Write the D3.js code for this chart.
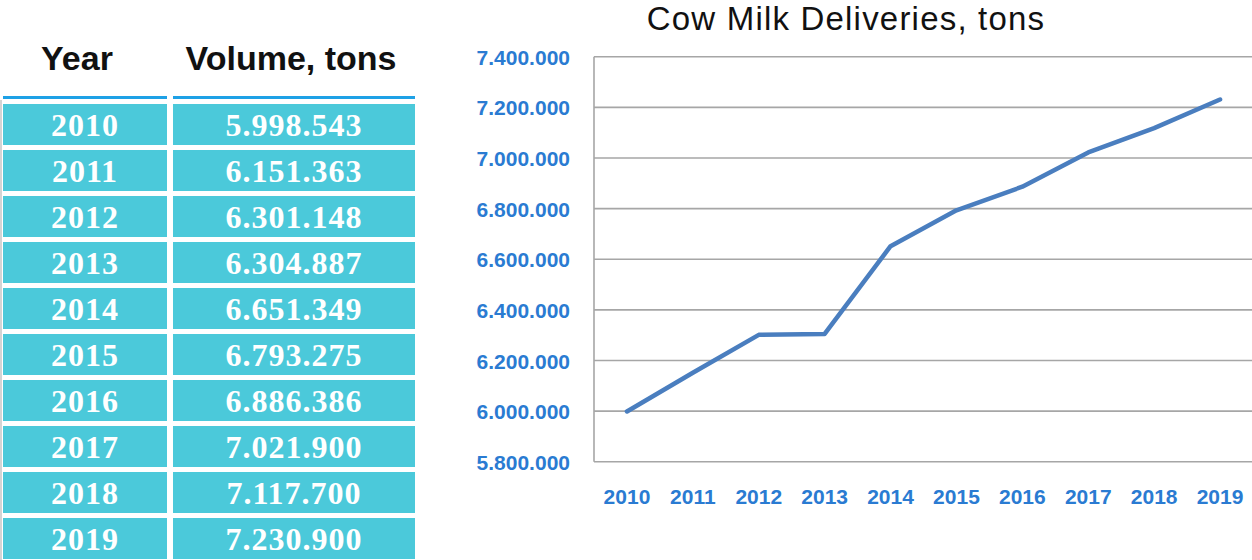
<!DOCTYPE html>
<html>
<head>
<meta charset="utf-8">
<script src="https://cdn.jsdelivr.net/npm/d3@7"></script>
<style>
  html, body { margin: 0; padding: 0; background: #fff; }
  svg { display: block; }
</style>
</head>
<body>
<svg id="chart" width="1252" height="560"></svg>
<script>
// Annual cow milk deliveries
const years = [2010, 2011, 2012, 2013, 2014, 2015, 2016, 2017, 2018, 2019];
const volumes = [5998543, 6151363, 6301148, 6304887, 6651349, 6793275, 6886386, 7021900, 7117700, 7230900];
const yTicks = [5800000, 6000000, 6200000, 6400000, 6600000, 6800000, 7000000, 7200000, 7400000];
const tableHeaders = ["Year", "Volume, tons"];
const chartTitle = "Cow Milk Deliveries, tons";

const locale = d3.formatLocale({ decimal: ",", thousands: ".", grouping: [3], currency: ["", ""] });
const fmt = locale.format(",d");

const svg = d3.select("#chart");

// ---- Table ----
const table = svg.append("g");
const cols = [
  { x0: 3, x1: 167 },
  { x0: 173, x1: 415 }
];
const rowTop = 104, rowPitch = 46, rowH = 41;

table.append("line")
  .attr("x1", 1).attr("x2", 1).attr("y1", 100).attr("y2", 560)
  .attr("stroke", "#d4d4d4").attr("stroke-width", 2);

tableHeaders.forEach((h, i) => {
  table.append("text")
    .attr("x", (cols[i].x0 + cols[i].x1) / 2 - (i === 0 ? 8 : 3))
    .attr("y", 70)
    .attr("text-anchor", "middle")
    .attr("font-family", "'Liberation Sans', Arial, sans-serif")
    .attr("font-weight", "bold")
    .attr("font-size", 34)
    .attr("fill", "#111")
    .text(h);
  table.append("rect")
    .attr("x", cols[i].x0).attr("y", 96)
    .attr("width", cols[i].x1 - cols[i].x0).attr("height", 3)
    .attr("fill", "#1ea1e6");
});

const rows = table.selectAll("g.row")
  .data(years.map((y, i) => ({ year: y, vol: volumes[i], i })))
  .join("g").attr("class", "row");

cols.forEach((c, ci) => {
  rows.append("rect")
    .attr("x", c.x0)
    .attr("y", d => rowTop + d.i * rowPitch)
    .attr("width", c.x1 - c.x0)
    .attr("height", rowH)
    .attr("fill", "#4bc9da");
  rows.append("text")
    .attr("x", (c.x0 + c.x1) / 2)
    .attr("y", d => rowTop + d.i * rowPitch + 32)
    .attr("text-anchor", "middle")
    .attr("font-family", "'Liberation Serif', 'Times New Roman', serif")
    .attr("font-weight", "bold")
    .attr("font-size", 32)
    .attr("letter-spacing", 1)
    .attr("fill", "#fff")
    .text(d => ci === 0 ? d.year : fmt(d.vol));
});

// ---- Line chart ----
const plot = { left: 594, right: 1253, top: 56.7, bottom: 461.7 };

const x = d3.scaleBand().domain(years).range([plot.left, plot.right]).padding(0);
const y = d3.scaleLinear().domain([5800000, 7400000]).range([plot.bottom, plot.top]);

const blue = "#2a7bd2";
const gridColor = "#a6a6a6";

// gridlines
svg.append("g")
  .selectAll("line")
  .data(yTicks)
  .join("line")
  .attr("x1", plot.left).attr("x2", plot.right)
  .attr("y1", d => y(d)).attr("y2", d => y(d))
  .attr("stroke", gridColor).attr("stroke-width", 1.6);

// left axis line
svg.append("line")
  .attr("x1", plot.left).attr("x2", plot.left)
  .attr("y1", plot.top).attr("y2", plot.bottom)
  .attr("stroke", gridColor).attr("stroke-width", 1.6);

// y axis labels
const yAxis = d3.axisLeft(y).tickValues(yTicks).tickFormat(fmt).tickSize(0).tickPadding(24);
const gy = svg.append("g").attr("transform", `translate(${plot.left},0)`).call(yAxis);
gy.select(".domain").remove();
gy.selectAll("text")
  .attr("font-family", "'Liberation Sans', Arial, sans-serif")
  .attr("font-weight", "bold")
  .attr("font-size", 21)
  .attr("fill", blue)
  .attr("dy", "0.36em");

// x axis labels
const xAxis = d3.axisBottom(x).tickSize(0).tickPadding(27);
const gx = svg.append("g").attr("transform", `translate(0,${plot.bottom})`).call(xAxis);
gx.select(".domain").remove();
gx.selectAll("text")
  .attr("font-family", "'Liberation Sans', Arial, sans-serif")
  .attr("font-weight", "bold")
  .attr("font-size", 21)
  .attr("fill", blue);

// series line
const line = d3.line()
  .x((d, i) => x(years[i]) + x.bandwidth() / 2)
  .y(d => y(d));

svg.append("path")
  .datum(volumes)
  .attr("d", line)
  .attr("fill", "none")
  .attr("stroke", "#4a7ebf")
  .attr("stroke-width", 4.5)
  .attr("stroke-linecap", "round")
  .attr("stroke-linejoin", "round");

// title
svg.append("text")
  .attr("x", 846).attr("y", 30)
  .attr("text-anchor", "middle")
  .attr("font-family", "'Liberation Sans', Arial, sans-serif")
  .attr("font-size", 33)
  .attr("letter-spacing", 1.2)
  .attr("fill", "#111")
  .text(chartTitle);
</script>
</body>
</html>
